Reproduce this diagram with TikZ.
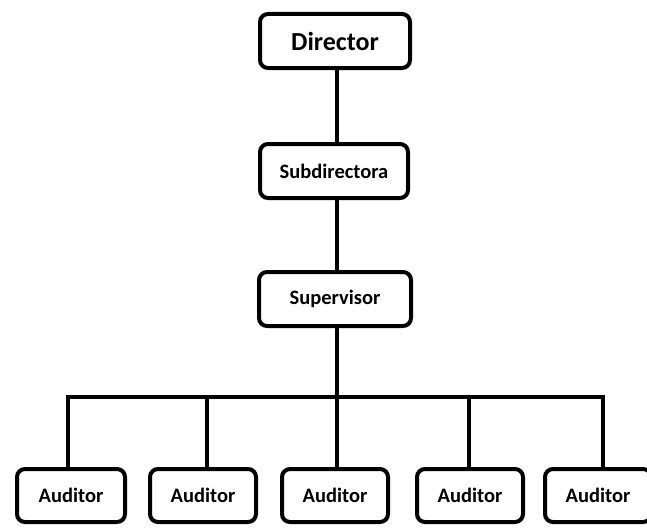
\documentclass[tikz,border=0pt]{standalone}
\usepackage{fontspec}
\setmainfont{Carlito}
\begin{document}
\begin{tikzpicture}[x=1pt,y=-1pt,
  box/.style={draw=black, line width=4pt, rounded corners=8pt, fill=white,
    minimum height=54pt, inner sep=0pt, font=\bfseries\fontsize{20.5}{24}\selectfont},
  link/.style={draw=black, line width=4pt}]
\useasboundingbox (0,0) rectangle (647,527);
\node[box, minimum width=150pt, font=\bfseries\fontsize{26}{30}\selectfont] (dir) at (335,41) {Director};
\node[box, minimum width=148pt] (sub) at (334,171) {Subdirectora};
\node[box, minimum width=152pt] (sup) at (335,299) {Supervisor};
\node[box, minimum width=108pt, minimum height=53pt] (a1) at (71,495.5) {Auditor};
\node[box, minimum width=106pt, minimum height=53pt] (a2) at (203,495.5) {Auditor};
\node[box, minimum width=106pt, minimum height=53pt] (a3) at (335,495.5) {Auditor};
\node[box, minimum width=106pt, minimum height=53pt] (a4) at (470,495.5) {Auditor};
\node[box, minimum width=106pt, minimum height=53pt] (a5) at (598,495.5) {Auditor};
\coordinate (b1) at (68,397);
\coordinate (b2) at (207,397);
\coordinate (b3) at (337,397);
\coordinate (b4) at (469,397);
\coordinate (b5) at (603,397);
\draw[link] (dir.south -| b3) -- (sub.north -| b3);
\draw[link] (sub.south -| b3) -- (sup.north -| b3);
\draw[link] (sup.south -| b3) -- (b3);
\draw[link, line join=miter] (b1 |- a1.north) -- (b1) -- (b5) -- (b5 |- a5.north);
\draw[link] (b2) -- (b2 |- a2.north);
\draw[link] (b3) -- (b3 |- a3.north);
\draw[link] (b4) -- (b4 |- a4.north);
\end{tikzpicture}
\end{document}
